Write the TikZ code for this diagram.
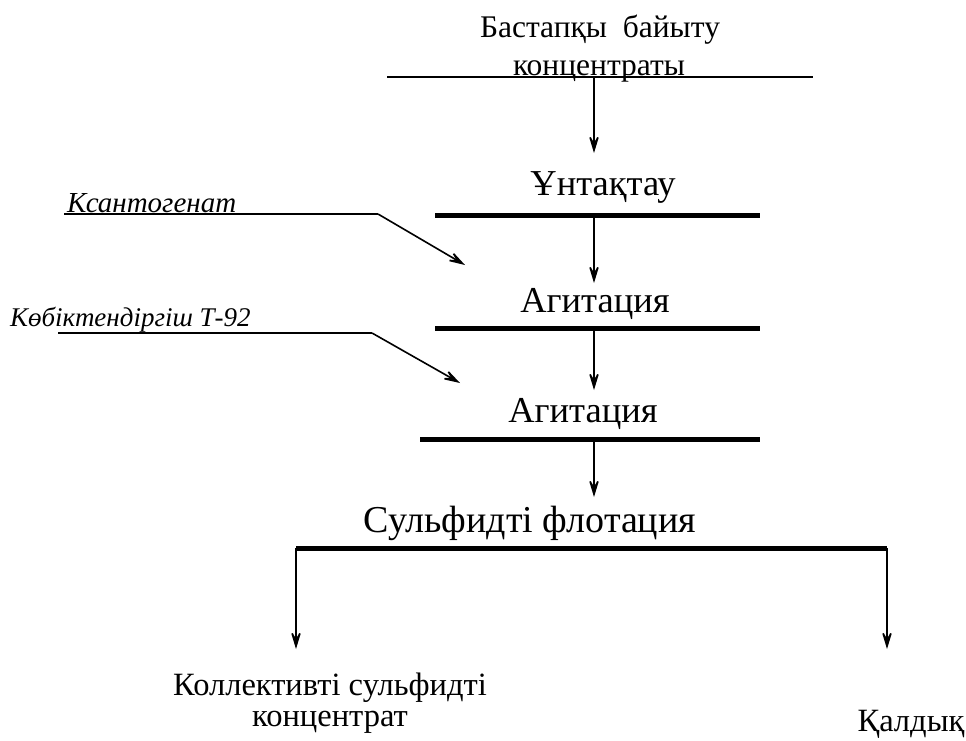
\documentclass[tikz,border=0pt]{standalone}
\usepackage{fontspec}
\setmainfont{Liberation Serif}
\usetikzlibrary{arrows.meta}
\begin{document}
\begin{tikzpicture}[x=1pt,y=-1pt,
  lbl/.style={inner sep=0pt,anchor=base,font=\fontsize{36.5}{40}\selectfont},
  toplbl/.style={inner sep=0pt,anchor=base,font=\fontsize{31.5}{36}\selectfont},
  botlbl/.style={inner sep=0pt,anchor=base,font=\fontsize{32.5}{38}\selectfont},
  ital/.style={inner sep=0pt,anchor=base west,font=\itshape\fontsize{29}{32}\selectfont},
  thin/.style={line width=1.4pt},
  bar/.style={line width=5pt},
  flow/.style={line width=1.6pt,-{Stealth[length=23pt,width=14pt,inset=13pt]}}]
\useasboundingbox (0,0) rectangle (966,740);
% top input
\node[toplbl] (src1) at (600,37) {Бастапқы\ \ байыту};
\node[toplbl] (src2) at (599,75) {концентраты};
\coordinate (srcL) at (387,77);
\coordinate (srcR) at (813,77);
\coordinate (srcM) at (594,77);
\draw[thin] (srcL) -- (srcR);
% step 1
\node[lbl] (s1) at (603,195) {Ұнтақтау};
\coordinate (b1L) at (435,215);
\coordinate (b1R) at (760,215);
\coordinate (b1M) at (594,215);
\coordinate (t1) at (594,153);
\draw[bar] (b1L) -- (b1R);
\draw[flow] (srcM) -- (t1);
% step 2
\node[lbl] (s2) at (595,312) {Агитация};
\coordinate (b2L) at (435,328);
\coordinate (b2R) at (760,328);
\coordinate (b2M) at (594,328);
\coordinate (t2) at (594,283);
\draw[bar] (b2L) -- (b2R);
\draw[flow] (b1M) -- (t2);
% step 3
\node[lbl] (s3) at (583,422) {Агитация};
\coordinate (b3L) at (420,439);
\coordinate (b3R) at (760,439);
\coordinate (b3M) at (594,439);
\coordinate (t3) at (594,390);
\draw[bar] (b3L) -- (b3R);
\draw[flow] (b2M) -- (t3);
% step 4
\node[lbl,font=\fontsize{38}{42}\selectfont] (s4) at (530,532) {Сульфидті флотация};
\coordinate (b4L) at (296,548);
\coordinate (b4R) at (887,548);
\coordinate (b4M) at (594,548);
\coordinate (t4) at (594,497);
\draw[bar] (b4L) -- (b4R);
\draw[flow] (b3M) -- (t4);
% reagents
\node[ital] (x1) at (67,212) {Ксантогенат};
\coordinate (x1L) at (64,214);
\coordinate (x1R) at (378,214);
\coordinate (x1T) at (465,265);
\draw[thin] (x1L) -- (x1R);
\draw[flow] (x1R) -- (x1T);
\node[ital,font=\itshape\fontsize{27}{30}\selectfont] (x2) at (10,326) {Көбіктендіргіш Т-92};
\coordinate (x2L) at (58,333);
\coordinate (x2R) at (372,333);
\coordinate (x2T) at (460,383);
\draw[thin] (x2L) -- (x2R);
\draw[flow] (x2R) -- (x2T);
% outputs
\coordinate (oL) at (296,649);
\coordinate (oR) at (887,649);
\draw[flow] (b4L) -- (oL);
\draw[flow] (b4R) -- (oR);
\node[botlbl] (p1) at (330,695) {Коллективті сульфидті};
\node[botlbl] (p2) at (330,726) {концентрат};
\node[botlbl] (p3) at (911,731) {Қалдық};
\end{tikzpicture}
\end{document}
